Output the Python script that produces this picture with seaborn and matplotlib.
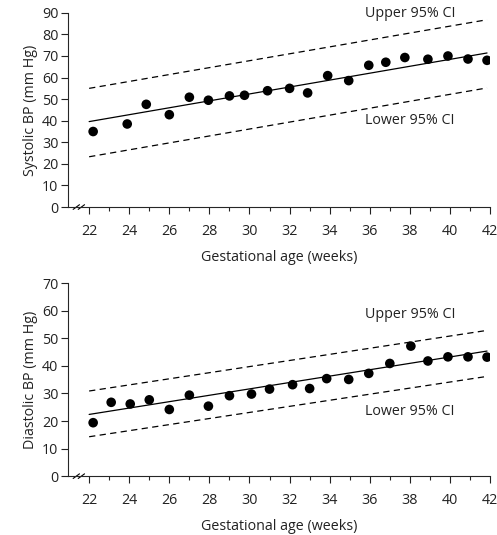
import pandas as pd
import seaborn as sns
import matplotlib.pyplot as plt

# systolic panel
sys_weeks = [22.2, 23.9, 24.85, 26.0, 27.0, 27.95, 29.0, 29.75, 30.9, 32.0, 32.9,
             33.9, 34.95, 35.95, 36.8, 37.75, 38.9, 39.9, 40.9, 41.85]
sys_bp = [35.0, 38.5, 47.6, 42.8, 50.9, 49.5, 51.5, 51.8, 53.9, 55.0, 52.9,
          60.9, 58.6, 65.7, 67.1, 69.3, 68.5, 70.0, 68.6, 68.0]

# diastolic panel
dia_weeks = [22.2, 23.1, 24.05, 25.0, 26.0, 27.0, 27.95, 29.0, 30.1, 31.0, 32.15,
             33.0, 33.85, 34.95, 35.95, 37.0, 38.05, 38.9, 39.9, 40.9, 41.85]
dia_bp = [19.4, 26.8, 26.2, 27.7, 24.2, 29.4, 25.4, 29.2, 29.8, 31.6, 33.2,
          31.8, 35.4, 35.1, 37.3, 40.9, 47.2, 41.8, 43.3, 43.3, 43.2]

# regression line and 95% CI ends
line_x = [22, 41.85]
sys_fit = [39.6, 71.4]
sys_upper = [55.0, 86.8]
sys_lower = [23.3, 55.2]
dia_fit = [22.4, 45.4]
dia_upper = [30.9, 52.9]
dia_lower = [14.3, 36.2]

sns.set_style("ticks")
plt.rcParams['font.family'] = ['Open Sans', 'DejaVu Sans']
plt.rcParams['font.size'] = 10.3

fig = plt.figure(figsize=(4.97, 5.35), dpi=100)
ax1 = fig.add_axes([0.137, 0.613, 0.849, 0.363])
ax2 = fig.add_axes([0.137, 0.110, 0.849, 0.3605])


def panel(ax, wk, bp, fit, up, lo, ymax, ylabel, up_y, lo_y):
    sns.lineplot(x=line_x, y=fit, ax=ax, color="black", lw=0.9)
    sns.lineplot(x=line_x, y=up, ax=ax, color="black", lw=0.9, linestyle=(0, (5, 3.5)))
    sns.lineplot(x=line_x, y=lo, ax=ax, color="black", lw=0.9, linestyle=(0, (5, 3.5)))
    sns.scatterplot(x=wk, y=bp, ax=ax, color="black", s=48, edgecolor="none", zorder=3)
    ax.set_xlim(20.95, 42)
    ax.set_ylim(0, ymax)
    ax.set_xticks(range(22, 43, 2))
    ax.set_xticks(range(23, 42, 2), minor=True)
    ax.set_yticks(range(0, ymax + 1, 10))
    ax.tick_params(axis="x", which="major", length=5, width=0.8, pad=7, colors="#222222")
    ax.tick_params(axis="x", which="minor", length=3, width=0.8)
    ax.tick_params(axis="y", length=5, width=0.8, pad=2, colors="#222222")
    for s in ["top", "right"]:
        ax.spines[s].set_visible(False)
    for s in ["left", "bottom"]:
        ax.spines[s].set_linewidth(0.8)
    ax.set_xlabel("Gestational age (weeks)", labelpad=8, color="#222222")
    ax.set_ylabel(ylabel, labelpad=3, color="#222222")
    ax.text(38.0, up_y, "Upper 95% CI", ha="center", va="center", color="#222222", clip_on=False)
    ax.text(38.0, lo_y, "Lower 95% CI", ha="center", va="center", color="#222222")
    # axis break marks
    for dx in [0, 0.012]:
        ax.plot([0.012 + dx, 0.027 + dx], [-0.012, 0.012], transform=ax.transAxes,
                color="black", lw=0.8, clip_on=False)


panel(ax1, sys_weeks, sys_bp, sys_fit, sys_upper, sys_lower, 90,
      "Systolic BP (mm Hg)", 89.6, 39.9)
panel(ax2, dia_weeks, dia_bp, dia_fit, dia_upper, dia_lower, 70,
      "Diastolic BP (mm Hg)", 58.5, 23.4)

plt.savefig("out.png", dpi=100)
